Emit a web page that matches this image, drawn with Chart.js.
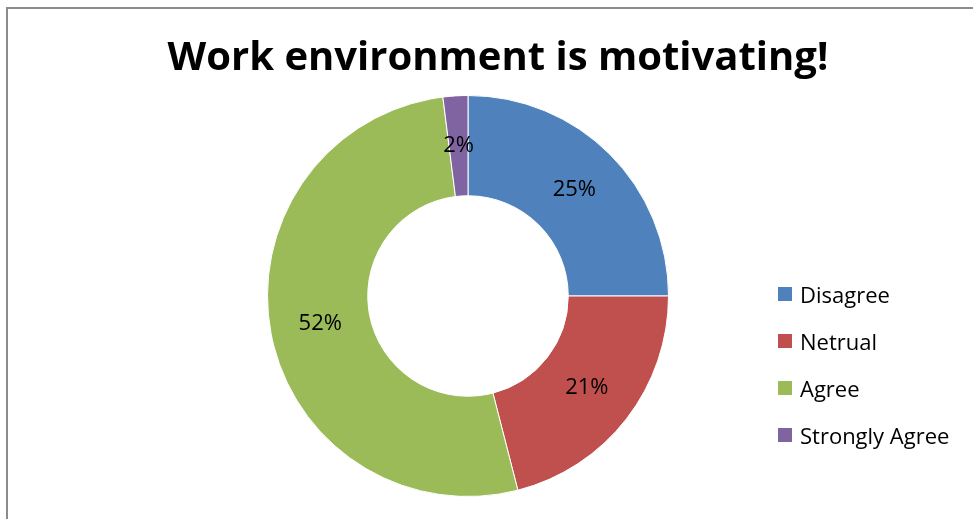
<!DOCTYPE html>
<html>
<head>
<meta charset="utf-8">
<title>Work environment is motivating!</title>
<script src="https://cdn.jsdelivr.net/npm/chart.js@4"></script>
<style>
  html, body { margin: 0; padding: 0; overflow: hidden; background: #fff; }
  #frame {
    position: absolute; left: 6px; top: 7px;
    width: 980px; height: 520px;
    border: 2px solid #8c8c8c; background: #fff;
  }
  #chart { display: block; }
  #title {
    position: absolute; left: 0; right: 0; top: 18px;
    text-align: center; white-space: nowrap;
    font-family: 'Open Sans', sans-serif; font-weight: bold; font-size: 40px;
    line-height: normal; color: #000;
  }
  #legend {
    position: absolute; left: 770px; top: 272px;
    font-family: 'Open Sans', sans-serif; font-size: 22px; color: #000;
  }
  .item { display: flex; align-items: center; height: 26px; margin-bottom: 21px; white-space: nowrap; }
  .swatch { width: 14px; height: 14px; margin-right: 8px; }
</style>
</head>
<body>
<div id="frame">
  <div id="title"></div>
  <canvas id="chart" width="980" height="520"></canvas>
  <div id="legend"></div>
</div>
<script>
// Survey answers and their share of responses (%)
const answers = ['Disagree', 'Netrual', 'Agree', 'Strongly Agree'];
const shares = [25, 21, 52, 2];
const sliceColors = ['#4f81bd', '#c0504d', '#9bbb59', '#8064a2'];
const chartTitle = 'Work environment is motivating!';

const baseFont = "'Open Sans', sans-serif";

// Percentage written in the middle of each ring segment
const sliceLabels = {
    id: 'sliceLabels',
    afterDatasetsDraw(chart) {
        const ctx = chart.ctx;
        const meta = chart.getDatasetMeta(0);
        ctx.save();
        ctx.font = '22px ' + baseFont;
        ctx.fillStyle = '#000';
        ctx.textAlign = 'center';
        ctx.textBaseline = 'middle';
        meta.data.forEach((arc, i) => {
            const pos = arc.tooltipPosition();
            ctx.fillText(shares[i] + '%', pos.x, pos.y);
        });
        ctx.restore();
    }
};

new Chart(document.getElementById('chart').getContext('2d'), {
    type: 'doughnut',
    data: {
        labels: answers,
        datasets: [{
            data: shares,
            backgroundColor: sliceColors,
            borderColor: '#ffffff',
            borderWidth: 1
        }]
    },
    options: {
        responsive: false,
        animation: false,
        cutout: '50%',
        // ring sits left of centre, under the title, leaving room for the legend
        layout: {
            padding: { left: 0, right: 60, top: 86, bottom: 32 }
        },
        plugins: {
            legend: { display: false },
            tooltip: { enabled: false }
        }
    },
    plugins: [sliceLabels]
});

// Title centred over the whole frame
document.getElementById('title').textContent = chartTitle;

// Legend on the right, built as plain HTML
const legend = document.getElementById('legend');
answers.forEach((name, i) => {
    const row = document.createElement('div');
    row.className = 'item';
    const box = document.createElement('span');
    box.className = 'swatch';
    box.style.background = sliceColors[i];
    const text = document.createElement('span');
    text.textContent = name;
    row.appendChild(box);
    row.appendChild(text);
    legend.appendChild(row);
});
</script>
</body>
</html>
